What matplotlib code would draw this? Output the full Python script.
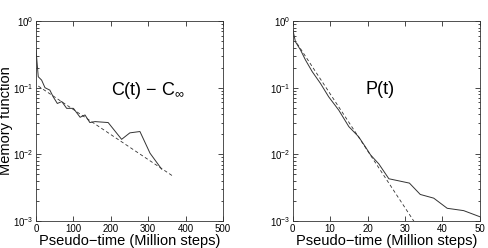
import matplotlib
matplotlib.use("Agg")
import matplotlib.pyplot as plt
from matplotlib.ticker import LogLocator, NullFormatter

plt.rcParams["font.family"] = ["Liberation Sans", "DejaVu Sans"]
plt.rcParams["mathtext.fontset"] = "custom"
plt.rcParams["mathtext.rm"] = "Liberation Sans"
plt.rcParams["mathtext.it"] = "Liberation Sans"

# memory function C(t) - C_inf (left panel)
c_time = [0, 6, 15, 24, 37, 46, 57, 69, 82, 100, 118, 131, 144, 158, 193,
          229, 251, 278, 305, 336]
c_value = [0.37, 0.146, 0.13, 0.10, 0.092, 0.073, 0.058, 0.062, 0.049, 0.049,
           0.036, 0.039, 0.030, 0.031, 0.030, 0.0168, 0.021, 0.022, 0.0104,
           0.006]
c_fit_time = [6, 369]
c_fit_value = [0.106, 0.0046]

# P(t) (right panel)
p_time = [0, 0.7, 2.05, 3.4, 5.2, 7.4, 9.6, 12.3, 15, 17.6, 19.4, 20.8, 23,
          25.7, 31.2, 34.1, 37.7, 41.3, 45.7, 50]
p_value = [0.75, 0.49, 0.37, 0.26, 0.174, 0.116, 0.073, 0.046, 0.026, 0.0184,
           0.013, 0.0098, 0.0072, 0.0043, 0.0037, 0.0025, 0.0022, 0.00155,
           0.00143, 0.00116]
p_fit_time = [1.15, 33]
p_fit_value = [0.46, 0.00088]

fig = plt.figure(figsize=(4.88, 2.48), dpi=100)
ax1 = fig.add_axes([0.0738, 0.109, 0.383, 0.806])
ax2 = fig.add_axes([0.600, 0.109, 0.383, 0.806])

for ax in (ax1, ax2):
    ax.set_yscale("log")
    ax.set_ylim(1e-3, 1)
    ax.tick_params(which="both", direction="in", top=True, right=True,
                   labelsize=7, width=0.5, pad=2)
    ax.tick_params(which="major", length=3.5)
    ax.tick_params(which="minor", length=1.8)
    ax.yaxis.set_major_locator(LogLocator(base=10, numticks=5))
    ax.yaxis.set_minor_locator(LogLocator(base=10, subs=range(2, 10), numticks=10))
    ax.yaxis.set_minor_formatter(NullFormatter())
    for s in ax.spines.values():
        s.set_linewidth(0.6)
        s.set_color("#333333")
    ax.set_xlabel("Pseudo\u2212time (Million steps)", fontsize=10.5, labelpad=0)

ax1.plot(c_time, c_value, color="#333333", lw=0.7)
ax1.plot(c_fit_time, c_fit_value, color="#333333", lw=0.6, ls=(0, (4, 3)))
ax1.set_xlim(0, 500)
ax1.set_xticks([0, 100, 200, 300, 400, 500])
ax1.set_ylabel("Memory function", fontsize=10.5, labelpad=0)
ax1.text(0.40, 0.655, r"C(t) $-$ C$_{\infty}$", transform=ax1.transAxes,
         fontsize=13, va="center", ha="left")

ax2.plot(p_time, p_value, color="#333333", lw=0.7)
ax2.plot(p_fit_time, p_fit_value, color="#333333", lw=0.6, ls=(0, (4, 3)))
ax2.set_xlim(0, 50)
ax2.set_xticks([0, 10, 20, 30, 40, 50])
ax2.text(0.465, 0.66, "P(t)", transform=ax2.transAxes,
         fontsize=13, va="center", ha="center")

fig.savefig("out.png", dpi=100)
